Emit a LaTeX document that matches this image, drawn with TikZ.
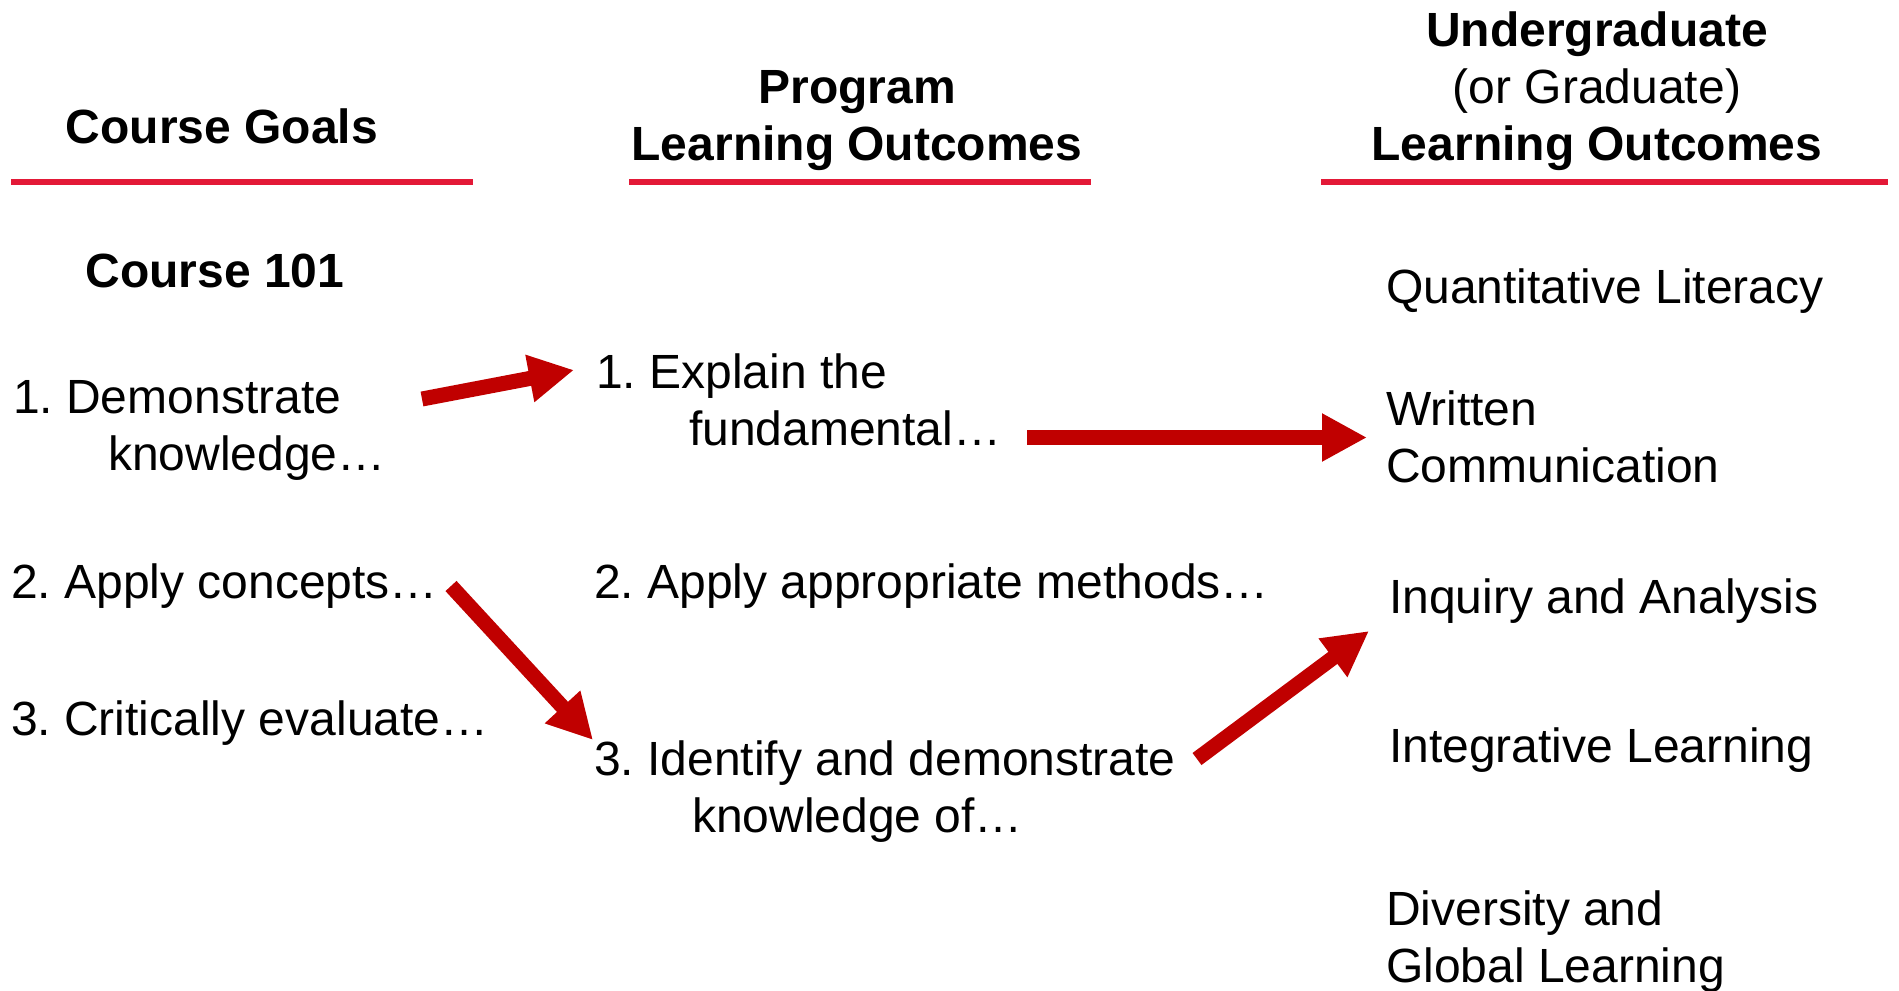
\documentclass[tikz,border=0pt]{standalone}
\usepackage{fontspec}
\setmainfont{Liberation Sans}
\usetikzlibrary{arrows.meta}
\definecolor{linered}{HTML}{E31937}
\definecolor{arrowred}{HTML}{C00000}
\newcommand\fs{\fontsize{24pt}{28.5pt}\selectfont\frenchspacing}
\tikzset{
  txt/.style={inner sep=0pt, outer sep=0pt, font=\fs, text=black},
  multi/.style={txt, align=left, anchor=north west},
  single/.style={txt, anchor=base west},
  head/.style={txt, align=center, anchor=north},
  rule/.style={draw=linered, line width=2.7pt},
  bigarrow/.style={draw=arrowred, line width=7.5pt, line cap=butt,
    -{Triangle[length=22.5pt,width=22.5pt]}}
}
\begin{document}
\begin{tikzpicture}[x=0.5pt,y=-0.5pt]
\useasboundingbox (0,0) rectangle (1899,990);
% headers
\node[txt, anchor=base, font=\fs\bfseries] (hcg) at (222,143) {Course Goals};
\node[head] (hplo) at (857,64.1) {\strut\textbf{Program}\\\strut\textbf{Learning Outcomes}};
\node[head] (hulo) at (1597,7.1) {\strut\textbf{Undergraduate}\\\strut(or Graduate)\\\strut\textbf{Learning Outcomes}};
% rules
\coordinate (r1a) at (11,182); \coordinate (r1b) at (473,182);
\coordinate (r2a) at (629,182); \coordinate (r2b) at (1091,182);
\coordinate (r3a) at (1321,182); \coordinate (r3b) at (1888,182);
\draw[rule] (r1a) -- (r1b);
\draw[rule] (r2a) -- (r2b);
\draw[rule] (r3a) -- (r3b);
% left column
\node[txt, anchor=base, font=\fs\bfseries] (c101) at (215,287) {Course 101};
\node[multi] (c1) at (13,373.1) {\strut 1. Demonstrate\\\strut\hspace*{47.5pt}knowledge…};
\node[single] (c2) at (11,598) {2. Apply concepts…};
\node[single] (c3) at (11,735) {3. Critically evaluate…};
% middle column
\node[multi] (p1) at (596,348.1) {\strut 1. Explain the\\\strut\hspace*{46.5pt}fundamental…};
\node[single] (p2) at (594,598) {2. Apply appropriate methods…};
\node[multi] (p3) at (594,735.1) {\strut 3. Identify and demonstrate\\\strut\hspace*{49pt}knowledge of…};
% right column
\node[single] (u1) at (1386,303) {Quantitative Literacy};
\node[multi] (u2) at (1386,385.1) {\strut Written\\\strut Communication};
\node[single] (u3) at (1389,613) {Inquiry and Analysis};
\node[single] (u4) at (1389,762) {Integrative Learning};
\node[multi] (u5) at (1386,885.1) {\strut Diversity and\\\strut Global Learning};
% arrow ends
\coordinate (a1s) at (422,399); \coordinate (a1e) at (574,370);
\coordinate (a2s) at (1027,437.5); \coordinate (a2e) at (1367,437.5);
\coordinate (a3s) at (451,586); \coordinate (a3e) at (593,740);
\coordinate (a4s) at (1197,759); \coordinate (a4e) at (1369,631);
\draw[bigarrow] (a1s) -- (a1e);
\draw[bigarrow] (a2s) -- (a2e);
\draw[bigarrow] (a3s) -- (a3e);
\draw[bigarrow] (a4s) -- (a4e);
\end{tikzpicture}
\end{document}
